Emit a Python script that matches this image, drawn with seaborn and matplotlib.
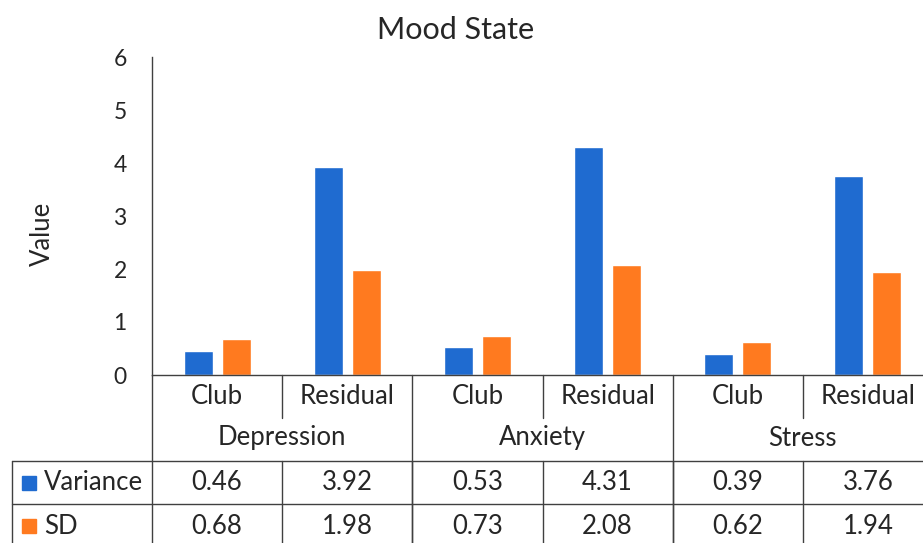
import pandas as pd
import matplotlib.pyplot as plt
import seaborn as sns
from matplotlib.transforms import blended_transform_factory

# Chart data
groups = ["Depression", "Anxiety", "Stress"]
sources = ["Club", "Residual"]
variance = [0.46, 3.92, 0.53, 4.31, 0.39, 3.76]
sd = [0.68, 1.98, 0.73, 2.08, 0.62, 1.94]
series = ["Variance", "SD"]

BLUE = "#1f6bd0"
ORANGE = "#ff7a1f"
LINE = "#404040"
FS = 18.5

slots = [f"{g} {s}" for g in groups for s in sources]
df = pd.DataFrame({
    "slot": slots * 2,
    "measure": ["Variance"] * len(slots) + ["SD"] * len(slots),
    "value": variance + sd,
})

sns.set_style("white")
plt.rcParams['font.family'] = ['Lato', 'DejaVu Sans']

W, H = 923, 543
fig = plt.figure(figsize=(W / 100, H / 100), dpi=100)

# axes in pixel terms: x 152..933, y 57..375
ax = fig.add_axes([152 / W, (H - 375) / H, 781 / W, 318 / H])
sns.barplot(data=df, x="slot", y="value", hue="measure", order=slots,
            hue_order=series, palette=[BLUE, ORANGE], width=0.584, gap=0.236,
            saturation=1, legend=False, ax=ax)

ax.set_xlim(-0.5, len(slots) - 0.5)
ax.set_ylim(0, 6)
ax.set_yticks(range(0, 7))
ax.tick_params(axis="y", labelsize=16.5, length=7.2, width=1, color=LINE, pad=11)
ax.tick_params(axis="x", bottom=False, labelbottom=False)
ax.set_xlabel("")
ax.set_ylabel("")
fig.text(42 / W, (H - 234) / H, "Value", rotation=90, ha="center",
         va="center", fontsize=FS)
fig.text(456 / W, (H - 30) / H, "Mood State", ha="center", va="center",
         fontsize=22)
for side in ["top", "right"]:
    ax.spines[side].set_visible(False)
for side in ["left", "bottom"]:
    ax.spines[side].set_color(LINE)
    ax.spines[side].set_linewidth(1)

# data table below the axes: x in data units, y in figure fraction
tr = blended_transform_factory(ax.transData, fig.transFigure)


def fy(ypx):
    return (H - ypx) / H


def vline(x, y0, y1):
    fig.add_artist(plt.Line2D([x, x], [fy(y0), fy(y1)], transform=tr,
                              color=LINE, lw=1, clip_on=False))


def hline(x0, x1, y):
    fig.add_artist(plt.Line2D([x0, x1], [fy(y), fy(y)], transform=tr,
                              color=LINE, lw=1, clip_on=False))


slot_px = 781 / len(slots)
left_edge = -0.5 + (12 - 152) / slot_px
right_edge = len(slots) - 0.5

# header rows
for i, s in enumerate(slots):
    ax.text(i, fy(396), s.split()[1], transform=tr, ha="center", va="center",
            fontsize=FS)
for g, name in enumerate(groups):
    ax.text(2 * g + 0.5, fy(438), name, transform=tr, ha="center",
            va="center", fontsize=FS)
    vline(2 * g - 0.5, 375, 560)
    vline(2 * g + 0.5, 375, 418)
vline(right_edge, 375, 560)

# value rows
hline(left_edge, right_edge, 461)
hline(left_edge, right_edge, 504)
vline(left_edge, 461, 560)
for i in range(len(slots)):
    vline(i + 0.5, 461, 560)
    ax.text(i, fy(483), f"{variance[i]:.2f}", transform=tr, ha="center",
            va="center", fontsize=FS)
    ax.text(i, fy(526), f"{sd[i]:.2f}", transform=tr, ha="center",
            va="center", fontsize=FS)

# legend keys in the table
key_x = -0.5 + (22 - 152) / slot_px
txt_x = -0.5 + (44 - 152) / slot_px
for yk, name, col in [(483, "Variance", BLUE), (526, "SD", ORANGE)]:
    fig.add_artist(plt.Rectangle((key_x, fy(yk + 7)), 14 / slot_px, 14 / H,
                                 transform=tr, color=col, clip_on=False))
    ax.text(txt_x, fy(yk), name, transform=tr, ha="left", va="center",
            fontsize=FS)

fig.savefig("out.png", dpi=100)
